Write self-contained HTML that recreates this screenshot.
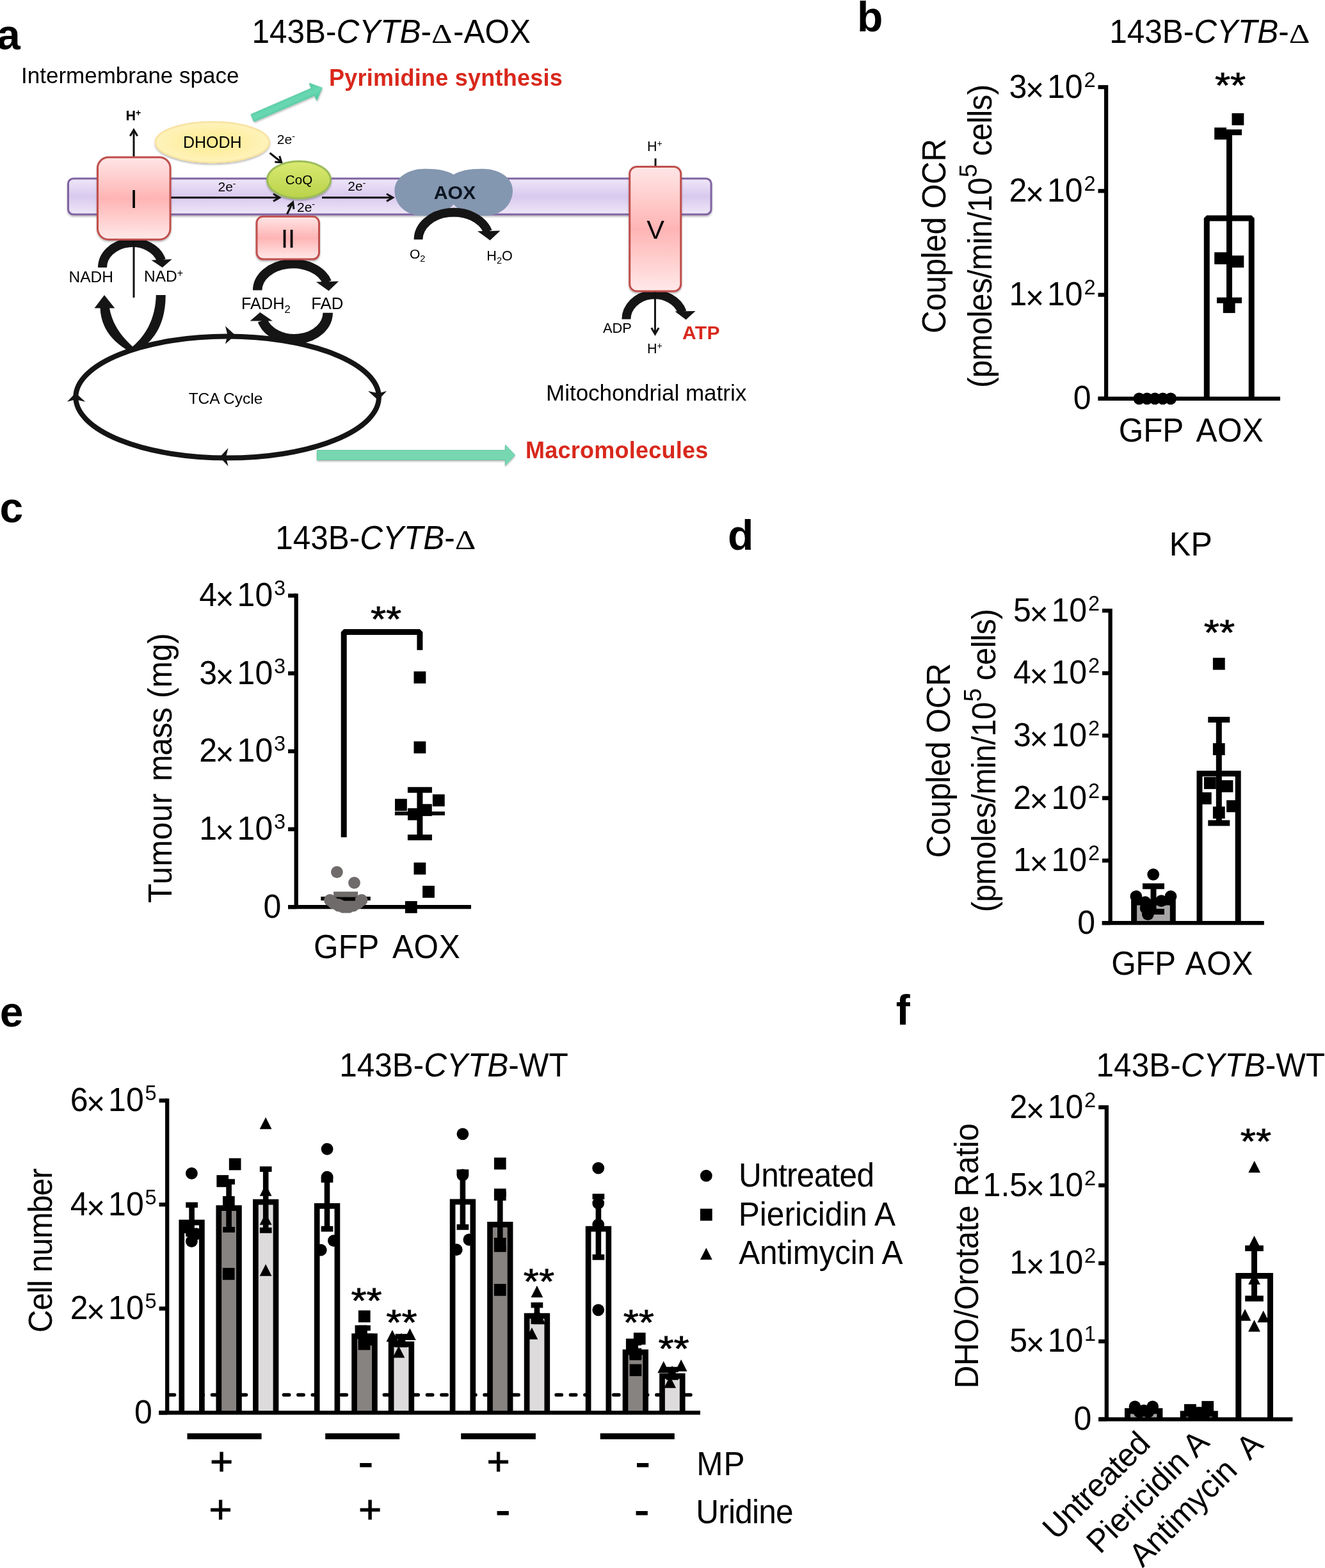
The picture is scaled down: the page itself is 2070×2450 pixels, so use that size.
<!DOCTYPE html>
<html lang="en">
<head>
<meta charset="utf-8">
<title>Figure</title>
<style>
html,body{margin:0;padding:0;background:#fff;}
body{width:2070px;height:2450px;overflow:hidden;}
svg{display:block;font-family:"Liberation Sans",sans-serif;fill:#000;}
</style>
</head>
<body>
<svg width="2070" height="2450" viewBox="0 0 2070 2450">
<rect width="2070" height="2450" fill="#fff"/>
<defs>
<linearGradient id="gMem" x1="0" y1="0" x2="0" y2="1"><stop offset="0" stop-color="#EFE7F9"/><stop offset="0.5" stop-color="#D9C9EE"/><stop offset="1" stop-color="#EFE8F8"/></linearGradient>
<linearGradient id="gPink" x1="0" y1="0" x2="0" y2="1"><stop offset="0" stop-color="#FFE6E6"/><stop offset="0.5" stop-color="#FFB4B4"/><stop offset="1" stop-color="#FFE9E9"/></linearGradient>
<linearGradient id="gPinkV" x1="0" y1="0" x2="0" y2="1"><stop offset="0" stop-color="#FFE6E6"/><stop offset="0.5" stop-color="#FFB4B4"/><stop offset="1" stop-color="#FFE9E9"/></linearGradient>
<radialGradient id="gYel" cx="0.5" cy="0.5" r="0.6"><stop offset="0" stop-color="#FDEB8E"/><stop offset="1" stop-color="#FFF4C4"/></radialGradient>
<linearGradient id="gCoQ" x1="0" y1="0" x2="0" y2="1"><stop offset="0" stop-color="#D9EA72"/><stop offset="1" stop-color="#B9D24A"/></linearGradient>
<linearGradient id="gGrn" x1="0" y1="0" x2="0" y2="1"><stop offset="0" stop-color="#4FCBA1"/><stop offset="0.5" stop-color="#6AD8B2"/><stop offset="1" stop-color="#4FCBA1"/></linearGradient>
<filter id="sh" x="-10%" y="-10%" width="120%" height="130%"><feGaussianBlur in="SourceAlpha" stdDeviation="1.5"/><feOffset dy="2"/><feComponentTransfer><feFuncA type="linear" slope="0.3"/></feComponentTransfer><feMerge><feMergeNode/><feMergeNode in="SourceGraphic"/></feMerge></filter>
</defs>
<g id="panel-a">
<text x="-5" y="76.5" font-size="66" font-weight="bold">a</text>
<text transform="translate(393.4 67.2) scale(1 1.03)" font-size="49.5">143B-<tspan font-style="italic">CYTB</tspan>-<tspan x="280.6" font-size="41" font-family="'Liberation Serif', serif" textLength="32.6" lengthAdjust="spacingAndGlyphs">Δ</tspan><tspan x="314.6">-AOX</tspan></text>
<text x="33" y="130" font-size="35">Intermembrane space</text>
<text x="853" y="626" font-size="35">Mitochondrial matrix</text>
<text x="514" y="133.5" font-size="36" font-weight="bold" fill="#D8281C" letter-spacing="0.25">Pyrimidine synthesis</text>
<text x="821" y="716" font-size="36" font-weight="bold" fill="#D8281C" letter-spacing="0.25">Macromolecules</text>
<rect x="106.5" y="279" width="1004.5" height="56" rx="8" fill="url(#gMem)" stroke="#8064A2" stroke-width="3" filter="url(#sh)"/>
<g transform="translate(394.5 184.3) rotate(-23.4)" filter="url(#sh)"><path d="M0 -6H103V-14.6L118.5 0L103 14.6V6H0Z" fill="url(#gGrn)" stroke="#46C097" stroke-width="1"/></g>
<g transform="translate(495.5 711)" filter="url(#sh)"><path d="M0 -7.5H294V-16L309 0L294 16V7.5H0Z" fill="#77D7B1" stroke="#62CBA6" stroke-width="1"/></g>
<path d="M160.0 418.0A47 38.8 0 0 1 252.1 407.0" stroke="#151515" stroke-width="14" fill="none"/>
<path d="M236.4 406.5L268.6 405L253.7 418Z" fill="#151515"/>
<path d="M402.2 453.5A55.7 41.5 0 0 1 511.0 441.0" stroke="#151515" stroke-width="14.5" fill="none"/>
<path d="M493.9 440.5L529.1 439.5L513.5 454.5Z" fill="#151515"/>
<path d="M978.4 498.8A44.6 38.6 0 0 1 1065.7 487.7" stroke="#151515" stroke-width="14" fill="none"/>
<path d="M1054.4 486.5L1086.5 486L1071.6 499.6Z" fill="#151515"/>
<path d="M209 203.5V465" stroke="#111" stroke-width="3" fill="none"/>
<path d="M203.3 212.5L209 203L214.7 212.5" stroke="#111" stroke-width="3" fill="none" stroke-linejoin="miter"/>
<path d="M267 308.7H436M503 308.7H613" stroke="#111" stroke-width="3" fill="none"/>
<path d="M427 303L436.8 308.7L427 314.4M604 303L613.8 308.7L604 314.4" stroke="#111" stroke-width="3" fill="none"/>
<rect x="152.5" y="245.7" width="113.5" height="128.5" rx="17" fill="url(#gPink)" stroke="#C0504D" stroke-width="3" filter="url(#sh)"/>
<text x="209" y="324.5" font-size="40" text-anchor="middle">I</text>
<rect x="401" y="338.3" width="97.5" height="66.7" rx="10" fill="url(#gPink)" stroke="#C0504D" stroke-width="3" filter="url(#sh)"/>
<text x="450" y="386.5" font-size="40" text-anchor="middle">II</text>
<path d="M448.5 334.5L457 317" stroke="#111" stroke-width="3" fill="none"/>
<path d="M449.3 322.8L457.6 315.8L459 326.8" stroke="#111" stroke-width="3" fill="none"/>
<ellipse cx="331.8" cy="222.2" rx="88.8" ry="31.8" fill="url(#gYel)" stroke="#F8E3A0" stroke-width="2.5" filter="url(#sh)"/>
<text x="331.8" y="231.3" font-size="25" text-anchor="middle">DHODH</text>
<path d="M421.5 239L439 253" stroke="#111" stroke-width="3" fill="none"/>
<path d="M429.3 253L439.8 253.8L436.7 243.8" stroke="#111" stroke-width="3" fill="none"/>
<ellipse cx="467" cy="281" rx="49.5" ry="29" fill="url(#gCoQ)" stroke="#9BBB59" stroke-width="3" filter="url(#sh)"/>
<text x="467" y="287.6" font-size="20.6" text-anchor="middle">CoQ</text>
<text x="340.5" y="298.8" font-size="21">2e<tspan dy="-7" font-size="14">-</tspan></text>
<text x="432.8" y="225" font-size="21">2e<tspan dy="-7" font-size="14">-</tspan></text>
<text x="543.3" y="298" font-size="21">2e<tspan dy="-7" font-size="14">-</tspan></text>
<text x="464" y="330.5" font-size="21">2e<tspan dy="-7" font-size="14">-</tspan></text>
<text x="196.5" y="187.7" font-size="21.5" font-weight="bold">H<tspan dy="-7" font-size="14">+</tspan></text>
<path d="M708.7 272.7C700 267 685 263.7 664 263.7C638 263.7 616.4 277 616.4 297.5C616.4 320 634 337.1 660 337.1C682 337.1 700 330.5 708.7 319.3C717.4 330.5 735.4 337.1 757.4 337.1C783.4 337.1 801 320 801 297.5C801 277 779.4 263.7 753.4 263.7C732.4 263.7 717.4 267 708.7 272.7Z" fill="#8497B0"/>
<text x="710.5" y="311" font-size="30.3" text-anchor="middle" font-weight="bold" fill="#0C1622">AOX</text>
<path d="M653.5 374.3A55.5 42.5 0 0 1 762.1 361.9" stroke="#151515" stroke-width="13.8" fill="none"/>
<path d="M746 361.3L781.5 360.4L765.6 375.5Z" fill="#151515"/>
<text x="640" y="403.6" font-size="21">O<tspan dy="5.5" font-size="14.5">2</tspan></text>
<text x="760.3" y="406.6" font-size="21.6">H<tspan dy="5.5" font-size="14.5">2</tspan><tspan dy="-5.5">O</tspan></text>
<path d="M1024 247.5V262" stroke="#111" stroke-width="3"/>
<rect x="983.7" y="260.5" width="80" height="194.5" rx="11" fill="url(#gPinkV)" stroke="#C0504D" stroke-width="3" filter="url(#sh)"/>
<text x="1024" y="373" font-size="41.5" text-anchor="middle">V</text>
<text x="1011" y="236.3" font-size="21.5">H<tspan dy="-7" font-size="14">+</tspan></text>
<text x="1011" y="551.8" font-size="21.5">H<tspan dy="-7" font-size="14">+</tspan></text>
<path d="M1023.4 456.5V521" stroke="#111" stroke-width="3" fill="none"/>
<path d="M1017.7 512.3L1023.4 522L1029.1 512.3" stroke="#111" stroke-width="3" fill="none"/>
<text x="942" y="520" font-size="21.8">ADP</text>
<text x="1066" y="530" font-size="30" font-weight="bold" fill="#D8281C" letter-spacing="0.4">ATP</text>
<text x="107.5" y="441.3" font-size="24.5">NADH</text>
<text x="225" y="439.7" font-size="24.5">NAD<tspan dy="-8" font-size="16">+</tspan></text>
<path d="M156.5 481C157.5 505 168 528 197 546L207.5 550L207.1 541.5C188 524 175 505 171 481Z" fill="#151515"/>
<path d="M258.7 461C259 495 248 525 222 543.5L207 550L207.1 541.5C230 522 243 495 243.8 461Z" fill="#151515"/>
<path d="M147.5 481.5L163 461L179.3 481.5Z" fill="#151515"/>
<text x="377" y="482.9" font-size="25.3">FADH<tspan dy="6" font-size="16.5">2</tspan></text>
<text x="486.2" y="482.9" font-size="25.8">FAD</text>
<path d="M512.2 488.8A52.2 41 0 0 1 410.1 500.8" stroke="#151515" stroke-width="15.5" fill="none"/>
<path d="M390.7 501.5L406.3 488L425.9 501.5Z" fill="#151515"/>
<ellipse cx="355.1" cy="620.6" rx="236.8" ry="95" fill="none" stroke="#151515" stroke-width="8"/>
<path d="M352 509.5L367.5 523.7L352 537.5L355.5 523.7Z" fill="#151515"/>
<path d="M575 611L591 625.5L604 611L591 614.5Z" fill="#151515"/>
<path d="M356.5 700L343.3 714.3L356.5 728.6L353 714.3Z" fill="#151515"/>
<path d="M104.8 627.8L118 614L133.3 627.8L118 624.3Z" fill="#151515"/>
<text x="352.5" y="630.8" font-size="24.5" text-anchor="middle">TCA Cycle</text>
</g>
<g id="panel-b">
<text x="1339.1" y="48.6" font-size="66" font-weight="bold">b</text>
<text transform="translate(1733.2 67.2) scale(1 1.03)" font-size="49.5">143B-<tspan font-style="italic">CYTB</tspan>-<tspan x="280.6" font-size="41" font-family="'Liberation Serif', serif" textLength="32.6" lengthAdjust="spacingAndGlyphs">Δ</tspan></text>
<text transform="translate(1728.1 152.6) scale(1 1.03)" font-size="50"><tspan x="-123.7" y="0" text-anchor="end">3</tspan><tspan x="-111.5" y="5.7" text-anchor="middle">×</tspan><tspan x="-92.1" y="0">10</tspan><tspan x="-34.7" y="-16.5" font-size="32.5">2</tspan></text>
<text transform="translate(1728.1 314.8) scale(1 1.03)" font-size="50"><tspan x="-123.7" y="0" text-anchor="end">2</tspan><tspan x="-111.5" y="5.7" text-anchor="middle">×</tspan><tspan x="-92.1" y="0">10</tspan><tspan x="-34.7" y="-16.5" font-size="32.5">2</tspan></text>
<text transform="translate(1728.1 477.1) scale(1 1.03)" font-size="50"><tspan x="-123.7" y="0" text-anchor="end">1</tspan><tspan x="-111.5" y="5.7" text-anchor="middle">×</tspan><tspan x="-92.1" y="0">10</tspan><tspan x="-34.7" y="-16.5" font-size="32.5">2</tspan></text>
<text transform="translate(1704.6 639.3) scale(1 1.03)" font-size="50" text-anchor="end">0</text>
<text transform="translate(1477 521) rotate(-90) scale(1 1.03)" font-size="49.5" letter-spacing="-0.39">Coupled OCR</text>
<text transform="translate(1548.8 602.9) rotate(-90) scale(1 1.03)" font-size="49.5"><tspan x="-3" y="0" letter-spacing="-0.75">(pmoles/min/10</tspan><tspan x="325.7" y="-22.1" font-size="38">5</tspan> <tspan x="359.1" y="0" letter-spacing="-0.71">cells)</tspan></text>
<path d="M1885.3 622.8V341.0H1955.2V622.8" fill="#fff" stroke="#000" stroke-width="9" stroke-linejoin="bevel"/>
<path d="M1728.1 132.9V622.8" stroke="#000" stroke-width="6.3" fill="none"/>
<path d="M1715.7 622.8H2000" stroke="#000" stroke-width="6.3" fill="none"/>
<path d="M1715.5 136.1H1728.1M1715.5 298.3H1728.1M1715.5 460.6H1728.1M1715.5 622.8H1728.1" stroke="#000" stroke-width="6.3" fill="none"/>
<path d="M1920.5 206.7V469.2M1901.0 206.7H1940.0M1901.0 469.2H1940.0" stroke="#000" stroke-width="9" fill="none"/>
<rect x="1924.5" y="176.9" width="18.8" height="18.8" fill="#000"/>
<rect x="1897.2" y="199.3" width="18.8" height="18.8" fill="#000"/>
<rect x="1897.2" y="394.2" width="18.8" height="18.8" fill="#000"/>
<rect x="1924.5" y="399.3" width="18.8" height="18.8" fill="#000"/>
<rect x="1910.8" y="470.3" width="18.8" height="18.8" fill="#000"/>
<circle cx="1779.7" cy="622.8" r="9.4" fill="#000"/>
<circle cx="1792.0" cy="622.8" r="9.4" fill="#000"/>
<circle cx="1804.3" cy="622.8" r="9.4" fill="#000"/>
<circle cx="1816.6" cy="622.8" r="9.4" fill="#000"/>
<circle cx="1828.9" cy="622.8" r="9.4" fill="#000"/>
<text transform="translate(1897.9 151.7) scale(1 0.9)" font-size="62" stroke="#000" stroke-width="0.9">**</text>
<text transform="translate(1747.8 689.5) scale(1 1.03)" font-size="49.5" letter-spacing="-0.14">GFP</text>
<text transform="translate(1868.6 689.5) scale(1 1.03)" font-size="49.5" letter-spacing="0.35">AOX</text>
</g>
<g id="panel-c">
<text x="-0.6" y="815.5" font-size="66" font-weight="bold">c</text>
<text transform="translate(430.2 858.2) scale(1 1.03)" font-size="49.5">143B-<tspan font-style="italic">CYTB</tspan>-<tspan x="280.6" font-size="41" font-family="'Liberation Serif', serif" textLength="32.6" lengthAdjust="spacingAndGlyphs">Δ</tspan></text>
<path d="M462.7 927.5V1417.2" stroke="#000" stroke-width="6.3" fill="none"/>
<path d="M450 1417.2H736" stroke="#000" stroke-width="6.3" fill="none"/>
<path d="M450.1 930.6H462.7M450.1 1052.2H462.7M450.1 1173.9H462.7M450.1 1295.6H462.7M450.1 1417.2H462.7" stroke="#000" stroke-width="6.3" fill="none"/>
<text transform="translate(462.7 947.1) scale(1 1.03)" font-size="50"><tspan x="-123.7" y="0" text-anchor="end">4</tspan><tspan x="-111.5" y="5.7" text-anchor="middle">×</tspan><tspan x="-92.1" y="0">10</tspan><tspan x="-34.7" y="-16.5" font-size="32.5">3</tspan></text>
<text transform="translate(462.7 1068.7) scale(1 1.03)" font-size="50"><tspan x="-123.7" y="0" text-anchor="end">3</tspan><tspan x="-111.5" y="5.7" text-anchor="middle">×</tspan><tspan x="-92.1" y="0">10</tspan><tspan x="-34.7" y="-16.5" font-size="32.5">3</tspan></text>
<text transform="translate(462.7 1190.4) scale(1 1.03)" font-size="50"><tspan x="-123.7" y="0" text-anchor="end">2</tspan><tspan x="-111.5" y="5.7" text-anchor="middle">×</tspan><tspan x="-92.1" y="0">10</tspan><tspan x="-34.7" y="-16.5" font-size="32.5">3</tspan></text>
<text transform="translate(462.7 1312.1) scale(1 1.03)" font-size="50"><tspan x="-123.7" y="0" text-anchor="end">1</tspan><tspan x="-111.5" y="5.7" text-anchor="middle">×</tspan><tspan x="-92.1" y="0">10</tspan><tspan x="-34.7" y="-16.5" font-size="32.5">3</tspan></text>
<text transform="translate(439.2 1433.7) scale(1 1.03)" font-size="50" text-anchor="end">0</text>
<text transform="translate(267.9 1409.5) rotate(-90) scale(1 1.03)" font-size="49.5"><tspan x="-1.2" y="0" letter-spacing="0.45">Tumour</tspan> <tspan x="188.7" y="0" letter-spacing="-0.87">mass</tspan> <tspan x="318.5" y="0" letter-spacing="0.01">(mg)</tspan></text>
<path d="M537.2 1308.3V987.6H655.9V1015.7" stroke="#000" stroke-width="9" fill="none" stroke-linejoin="bevel"/>
<text transform="translate(578.9 986.1) scale(1 0.9)" font-size="62" stroke="#000" stroke-width="0.9">**</text>
<path d="M501.3 1404H578.8" stroke="#000" stroke-width="6.2"/>
<rect x="521.1" y="1393.2" width="38.1" height="8.5" fill="#6E6B6A"/>
<circle cx="526.4" cy="1362.6" r="9.4" fill="#6E6B6A"/>
<circle cx="553.5" cy="1379.3" r="9.4" fill="#6E6B6A"/>
<circle cx="515.5" cy="1406.5" r="9.4" fill="#6E6B6A"/>
<circle cx="565" cy="1406.5" r="9.4" fill="#6E6B6A"/>
<circle cx="521" cy="1411" r="9.4" fill="#6E6B6A"/>
<circle cx="559.5" cy="1411" r="9.4" fill="#6E6B6A"/>
<circle cx="529" cy="1415" r="9.4" fill="#6E6B6A"/>
<circle cx="552" cy="1415" r="9.4" fill="#6E6B6A"/>
<circle cx="536" cy="1417.3" r="9.4" fill="#6E6B6A"/>
<circle cx="545" cy="1417.3" r="9.4" fill="#6E6B6A"/>
<circle cx="540.5" cy="1417.3" r="9.4" fill="#6E6B6A"/>
<circle cx="534" cy="1412" r="9.4" fill="#6E6B6A"/>
<circle cx="547" cy="1412" r="9.4" fill="#6E6B6A"/>
<path d="M526 1402.5L538 1407.5H555V1402.5Z" fill="#000"/>
<path d="M616.9 1271H694.9" stroke="#000" stroke-width="6.2"/>
<path d="M655.9 1234.3V1308.6M636.9 1234.3H674.9M636.9 1308.6H674.9" stroke="#000" stroke-width="9" fill="none"/>
<rect x="646.5" y="1049.1" width="18.8" height="18.8" fill="#000"/>
<rect x="646.5" y="1158.4" width="18.8" height="18.8" fill="#000"/>
<rect x="617.0" y="1248.2" width="18.8" height="18.8" fill="#000"/>
<rect x="675.9" y="1241.2" width="18.8" height="18.8" fill="#000"/>
<rect x="656.0" y="1256.3" width="18.8" height="18.8" fill="#000"/>
<rect x="637.0" y="1262.8" width="18.8" height="18.8" fill="#000"/>
<rect x="646.5" y="1347.7" width="18.8" height="18.8" fill="#000"/>
<rect x="660.1" y="1384.0" width="18.8" height="18.8" fill="#000"/>
<rect x="632.9" y="1408.0" width="18.8" height="18.8" fill="#000"/>
<text transform="translate(490.1 1497.2) scale(1 1.03)" font-size="49.5" letter-spacing="0.16">GFP</text>
<text transform="translate(613 1497.2) scale(1 1.03)" font-size="49.5" letter-spacing="0.6">AOX</text>
</g>
<g id="panel-d">
<text x="1137" y="858.6" font-size="66" font-weight="bold">d</text>
<text transform="translate(1826.7 868) scale(1 1.03)" font-size="50" letter-spacing="0.5">KP</text>
<text transform="translate(1734.6 970.7) scale(1 1.03)" font-size="50"><tspan x="-123.7" y="0" text-anchor="end">5</tspan><tspan x="-111.5" y="5.7" text-anchor="middle">×</tspan><tspan x="-92.1" y="0">10</tspan><tspan x="-34.7" y="-16.5" font-size="32.5">2</tspan></text>
<text transform="translate(1734.6 1068.3) scale(1 1.03)" font-size="50"><tspan x="-123.7" y="0" text-anchor="end">4</tspan><tspan x="-111.5" y="5.7" text-anchor="middle">×</tspan><tspan x="-92.1" y="0">10</tspan><tspan x="-34.7" y="-16.5" font-size="32.5">2</tspan></text>
<text transform="translate(1734.6 1165.9) scale(1 1.03)" font-size="50"><tspan x="-123.7" y="0" text-anchor="end">3</tspan><tspan x="-111.5" y="5.7" text-anchor="middle">×</tspan><tspan x="-92.1" y="0">10</tspan><tspan x="-34.7" y="-16.5" font-size="32.5">2</tspan></text>
<text transform="translate(1734.6 1263.5) scale(1 1.03)" font-size="50"><tspan x="-123.7" y="0" text-anchor="end">2</tspan><tspan x="-111.5" y="5.7" text-anchor="middle">×</tspan><tspan x="-92.1" y="0">10</tspan><tspan x="-34.7" y="-16.5" font-size="32.5">2</tspan></text>
<text transform="translate(1734.6 1361.1) scale(1 1.03)" font-size="50"><tspan x="-123.7" y="0" text-anchor="end">1</tspan><tspan x="-111.5" y="5.7" text-anchor="middle">×</tspan><tspan x="-92.1" y="0">10</tspan><tspan x="-34.7" y="-16.5" font-size="32.5">2</tspan></text>
<text transform="translate(1711.1 1458.7) scale(1 1.03)" font-size="50" text-anchor="end">0</text>
<text transform="translate(1483.5 1340.4) rotate(-90) scale(1 1.03)" font-size="49.5" letter-spacing="-0.39">Coupled OCR</text>
<text transform="translate(1555.3 1422.3) rotate(-90) scale(1 1.03)" font-size="49.5"><tspan x="-3" y="0" letter-spacing="-0.75">(pmoles/min/10</tspan><tspan x="325.7" y="-22.1" font-size="38">5</tspan> <tspan x="359.1" y="0" letter-spacing="-0.71">cells)</tspan></text>
<path d="M1771.6 1442.2V1410.0H1832.3V1442.2" fill="#A7A5A5" stroke="#000" stroke-width="9" stroke-linejoin="miter"/>
<path d="M1874.0 1442.2V1208.8H1934.2V1442.2" fill="#fff" stroke="#000" stroke-width="9" stroke-linejoin="miter"/>
<path d="M1734.6 951.1V1442.2" stroke="#000" stroke-width="6.3" fill="none"/>
<path d="M1721.6 1442.2H1974.8" stroke="#000" stroke-width="6.3" fill="none"/>
<path d="M1722.0 954.2H1734.6M1722.0 1051.8H1734.6M1722.0 1149.4H1734.6M1722.0 1247.0H1734.6M1722.0 1344.6H1734.6M1722.0 1442.2H1734.6" stroke="#000" stroke-width="6.3" fill="none"/>
<path d="M1802 1384.7V1424.5M1785.0 1384.7H1819.0M1785.0 1424.5H1819.0" stroke="#000" stroke-width="9" fill="none"/>
<circle cx="1801.7" cy="1366.3" r="9.4" fill="#000"/>
<circle cx="1774.9" cy="1400.7" r="9.4" fill="#000"/>
<circle cx="1829" cy="1400.7" r="9.4" fill="#000"/>
<circle cx="1789.1" cy="1409.7" r="9.4" fill="#000"/>
<circle cx="1814.3" cy="1407.6" r="9.4" fill="#000"/>
<circle cx="1790.2" cy="1419.1" r="9.4" fill="#000"/>
<circle cx="1793.3" cy="1428.6" r="9.4" fill="#000"/>
<path d="M1904.3 1124.5V1286.1M1887.3 1124.5H1921.3M1887.3 1286.1H1921.3" stroke="#000" stroke-width="9" fill="none"/>
<rect x="1894.9" y="1027.8" width="18.8" height="18.8" fill="#000"/>
<rect x="1894.9" y="1161.2" width="18.8" height="18.8" fill="#000"/>
<rect x="1881.0" y="1214.1" width="18.8" height="18.8" fill="#000"/>
<rect x="1907.6" y="1219.1" width="18.8" height="18.8" fill="#000"/>
<rect x="1873.9" y="1238.0" width="18.8" height="18.8" fill="#000"/>
<rect x="1916.1" y="1250.3" width="18.8" height="18.8" fill="#000"/>
<rect x="1894.9" y="1260.3" width="18.8" height="18.8" fill="#000"/>
<text transform="translate(1880.8 1007.1) scale(1 0.9)" font-size="62" stroke="#000" stroke-width="0.9">**</text>
<text transform="translate(1736.2 1522.9) scale(1 1.03)" font-size="49.5" letter-spacing="-0.44">GFP</text>
<text transform="translate(1851.5 1522.9) scale(1 1.03)" font-size="49.5" letter-spacing="0.8">AOX</text>
</g>
<g id="panel-e">
<text x="-0.3" y="1603.5" font-size="66" font-weight="bold">e</text>
<text transform="translate(530.3 1682.3) scale(1 1.03)" font-size="49.5">143B-<tspan font-style="italic">CYTB</tspan>-WT</text>
<path d="M264.2 2179.5H1080" stroke="#000" stroke-width="5.4" stroke-dasharray="8.4 14" stroke-linecap="round" fill="none"/>
<text transform="translate(80.7 2082.2) rotate(-90) scale(1 1.03)" font-size="49.5" letter-spacing="-1">Cell number</text>
<path d="M283.8 2207.3V1910.1H315.4V2207.3" fill="#fff" stroke="#000" stroke-width="8.7" stroke-linejoin="miter"/>
<path d="M341.8 2207.3V1887.6H373.4V2207.3" fill="#878381" stroke="#000" stroke-width="8.7" stroke-linejoin="miter"/>
<path d="M399.4 2207.3V1878.2H431.0V2207.3" fill="#DDDBDB" stroke="#000" stroke-width="8.7" stroke-linejoin="miter"/>
<path d="M495.2 2207.3V1884.4H526.9V2207.3" fill="#fff" stroke="#000" stroke-width="8.7" stroke-linejoin="miter"/>
<path d="M553.6 2207.3V2087.8H585.4V2207.3" fill="#878381" stroke="#000" stroke-width="8.7" stroke-linejoin="miter"/>
<path d="M611.1 2207.3V2100.3H642.8V2207.3" fill="#DDDBDB" stroke="#000" stroke-width="8.7" stroke-linejoin="miter"/>
<path d="M707.1 2207.3V1877.8H738.8V2207.3" fill="#fff" stroke="#000" stroke-width="8.7" stroke-linejoin="miter"/>
<path d="M765.5 2207.3V1913.3H797.1V2207.3" fill="#878381" stroke="#000" stroke-width="8.7" stroke-linejoin="miter"/>
<path d="M823.1 2207.3V2056.2H854.8V2207.3" fill="#DDDBDB" stroke="#000" stroke-width="8.7" stroke-linejoin="miter"/>
<path d="M919.1 2207.3V1920.1H950.8V2207.3" fill="#fff" stroke="#000" stroke-width="8.7" stroke-linejoin="miter"/>
<path d="M977.0 2207.3V2112.8H1008.6V2207.3" fill="#878381" stroke="#000" stroke-width="8.7" stroke-linejoin="miter"/>
<path d="M1034.5 2207.3V2150.2H1066.2V2207.3" fill="#DDDBDB" stroke="#000" stroke-width="8.7" stroke-linejoin="miter"/>
<path d="M299.6 1882.7V1928M290.25 1882.7H308.95000000000005M290.25 1928H308.95000000000005" stroke="#000" stroke-width="8.6" fill="none"/>
<path d="M357.6 1846.5V1921.4M348.25 1846.5H366.95000000000005M348.25 1921.4H366.95000000000005" stroke="#000" stroke-width="8.6" fill="none"/>
<path d="M415.2 1826.8V1922.4M405.84999999999997 1826.8H424.55M405.84999999999997 1922.4H424.55" stroke="#000" stroke-width="8.6" fill="none"/>
<path d="M511.0 1843.4V1920.1M501.65 1843.4H520.35M501.65 1920.1H520.35" stroke="#000" stroke-width="8.6" fill="none"/>
<path d="M569.5 2075V2092M560.15 2075H578.85M560.15 2092H578.85" stroke="#000" stroke-width="8.6" fill="none"/>
<path d="M626.9 2088.5V2101M617.55 2088.5H636.25M617.55 2101H636.25" stroke="#000" stroke-width="8.6" fill="none"/>
<path d="M722.9 1831.6V1917.4M713.55 1831.6H732.25M713.55 1917.4H732.25" stroke="#000" stroke-width="8.6" fill="none"/>
<path d="M781.3 1866V1952M771.9499999999999 1866H790.65M771.9499999999999 1952H790.65" stroke="#000" stroke-width="8.6" fill="none"/>
<path d="M838.9 2039.2V2064.8M829.55 2039.2H848.25M829.55 2064.8H848.25" stroke="#000" stroke-width="8.6" fill="none"/>
<path d="M934.9 1869.6V1964.4M925.55 1869.6H944.25M925.55 1964.4H944.25" stroke="#000" stroke-width="8.6" fill="none"/>
<path d="M992.8 2098V2119M983.4499999999999 2098H1002.15M983.4499999999999 2119H1002.15" stroke="#000" stroke-width="8.6" fill="none"/>
<path d="M1050.4 2140V2152M1041.0500000000002 2140H1059.75M1041.0500000000002 2152H1059.75" stroke="#000" stroke-width="8.6" fill="none"/>
<circle cx="299.4" cy="1833.4" r="9.4" fill="#000"/>
<circle cx="292" cy="1918" r="9.4" fill="#000"/>
<circle cx="306.5" cy="1928" r="9.4" fill="#000"/>
<circle cx="299.4" cy="1939.5" r="9.4" fill="#000"/>
<circle cx="511.1" cy="1795.3" r="9.4" fill="#000"/>
<circle cx="511.1" cy="1839.2" r="9.4" fill="#000"/>
<circle cx="521.4" cy="1938.7" r="9.4" fill="#000"/>
<circle cx="501.2" cy="1953.2" r="9.4" fill="#000"/>
<circle cx="722.9" cy="1771.8" r="9.4" fill="#000"/>
<circle cx="722.9" cy="1836" r="9.4" fill="#000"/>
<circle cx="732.9" cy="1937" r="9.4" fill="#000"/>
<circle cx="713.2" cy="1952.7" r="9.4" fill="#000"/>
<circle cx="934.7" cy="1825.2" r="9.4" fill="#000"/>
<circle cx="934.7" cy="1880.1" r="9.4" fill="#000"/>
<circle cx="934.7" cy="1913.3" r="9.4" fill="#000"/>
<circle cx="934.7" cy="2046.8" r="9.4" fill="#000"/>
<rect x="357.8" y="1809.7" width="18.7" height="18.7" fill="#000"/>
<rect x="338.4" y="1836.1" width="18.7" height="18.7" fill="#000"/>
<rect x="348.0" y="1869.0" width="18.7" height="18.7" fill="#000"/>
<rect x="347.8" y="1981.1" width="18.7" height="18.7" fill="#000"/>
<rect x="559.9" y="2047.5" width="18.7" height="18.7" fill="#000"/>
<rect x="554.6" y="2070.7" width="18.7" height="18.7" fill="#000"/>
<rect x="565.6" y="2083.7" width="18.7" height="18.7" fill="#000"/>
<rect x="559.6" y="2090.7" width="18.7" height="18.7" fill="#000"/>
<rect x="771.9" y="1808.7" width="18.7" height="18.7" fill="#000"/>
<rect x="771.9" y="1857.2" width="18.7" height="18.7" fill="#000"/>
<rect x="771.9" y="1933.9" width="18.7" height="18.7" fill="#000"/>
<rect x="771.9" y="2006.1" width="18.7" height="18.7" fill="#000"/>
<rect x="989.9" y="2082.3" width="18.7" height="18.7" fill="#000"/>
<rect x="977.9" y="2091.6" width="18.7" height="18.7" fill="#000"/>
<rect x="983.6" y="2106.6" width="18.7" height="18.7" fill="#000"/>
<rect x="983.6" y="2131.5" width="18.7" height="18.7" fill="#000"/>
<path d="M405.7 1764.2L424.5 1764.2L415.1 1745.7Z" fill="#000"/>
<path d="M405.7 1868.8L424.5 1868.8L415.1 1850.3Z" fill="#000"/>
<path d="M405.7 1913.8L424.5 1913.8L415.1 1895.2Z" fill="#000"/>
<path d="M405.7 1993.7L424.5 1993.7L415.1 1975.2Z" fill="#000"/>
<path d="M603.5 2096.4L622.3 2096.4L612.9 2077.9Z" fill="#000"/>
<path d="M631.0 2093.9L649.8 2093.9L640.4 2075.4Z" fill="#000"/>
<path d="M613.5 2121.4L632.3 2121.4L622.9 2102.9Z" fill="#000"/>
<path d="M617.6 2101.2L636.4 2101.2L627 2082.8Z" fill="#000"/>
<path d="M829.5 2027.2L848.3 2027.2L838.9 2008.7Z" fill="#000"/>
<path d="M821.5 2092.8L840.3 2092.8L830.9 2074.2Z" fill="#000"/>
<path d="M829.5 2061.2L848.3 2061.2L838.9 2042.8Z" fill="#000"/>
<path d="M833.6 2069.2L852.4 2069.2L843 2050.8Z" fill="#000"/>
<path d="M1027.3 2145.2L1046.1 2145.2L1036.7 2126.7Z" fill="#000"/>
<path d="M1054.7 2142.7L1073.5 2142.7L1064.1 2124.2Z" fill="#000"/>
<path d="M1037.3 2168.8L1056.1 2168.8L1046.7 2150.2Z" fill="#000"/>
<path d="M1040.6 2152.2L1059.4 2152.2L1050 2133.8Z" fill="#000"/>
<text transform="translate(548.4 2050.8) scale(1 0.9)" font-size="62" stroke="#000" stroke-width="0.9">**</text>
<text transform="translate(603.3 2085.1) scale(1 0.9)" font-size="62" stroke="#000" stroke-width="0.9">**</text>
<text transform="translate(817.8 2020.9) scale(1 0.9)" font-size="62" stroke="#000" stroke-width="0.9">**</text>
<text transform="translate(973.7 2085.1) scale(1 0.9)" font-size="62" stroke="#000" stroke-width="0.9">**</text>
<text transform="translate(1028.4 2126.1) scale(1 0.9)" font-size="62" stroke="#000" stroke-width="0.9">**</text>
<path d="M261.2 1716.4V2207.3" stroke="#000" stroke-width="6.3" fill="none"/>
<path d="M248.2 2207.3H1094" stroke="#000" stroke-width="6.3" fill="none"/>
<path d="M248.6 1719.6H261.2M248.6 1882.2H261.2M248.6 2044.7H261.2M248.6 2207.3H261.2" stroke="#000" stroke-width="6.3" fill="none"/>
<text transform="translate(261.2 1736.1) scale(1 1.03)" font-size="50"><tspan x="-123.7" y="0" text-anchor="end">6</tspan><tspan x="-111.5" y="5.7" text-anchor="middle">×</tspan><tspan x="-92.1" y="0">10</tspan><tspan x="-34.7" y="-16.5" font-size="32.5">5</tspan></text>
<text transform="translate(261.2 1898.7) scale(1 1.03)" font-size="50"><tspan x="-123.7" y="0" text-anchor="end">4</tspan><tspan x="-111.5" y="5.7" text-anchor="middle">×</tspan><tspan x="-92.1" y="0">10</tspan><tspan x="-34.7" y="-16.5" font-size="32.5">5</tspan></text>
<text transform="translate(261.2 2061.2) scale(1 1.03)" font-size="50"><tspan x="-123.7" y="0" text-anchor="end">2</tspan><tspan x="-111.5" y="5.7" text-anchor="middle">×</tspan><tspan x="-92.1" y="0">10</tspan><tspan x="-34.7" y="-16.5" font-size="32.5">5</tspan></text>
<text transform="translate(237.7 2223.8) scale(1 1.03)" font-size="50" text-anchor="end">0</text>
<rect x="292.5" y="2239.5" width="116.1" height="9.3" fill="#000"/>
<rect x="508.2" y="2239.5" width="116.0" height="9.3" fill="#000"/>
<rect x="720.2" y="2239.5" width="116.7" height="9.3" fill="#000"/>
<rect x="937.7" y="2239.5" width="116.1" height="9.3" fill="#000"/>
<text x="328" y="2303.8" font-size="62" stroke="#000" stroke-width="0.9">+</text>
<text x="559.7" y="2307.6" font-size="70" stroke="#000" stroke-width="1.2">-</text>
<text x="760.5" y="2303.8" font-size="62" stroke="#000" stroke-width="0.9">+</text>
<text x="992.6" y="2307.8" font-size="70" stroke="#000" stroke-width="1.2">-</text>
<text x="326.4" y="2378.8" font-size="62" stroke="#000" stroke-width="0.9">+</text>
<text x="559.9" y="2378.8" font-size="62" stroke="#000" stroke-width="0.9">+</text>
<text x="773.9" y="2382.6" font-size="70" stroke="#000" stroke-width="1.2">-</text>
<text x="991.1" y="2382.6" font-size="70" stroke="#000" stroke-width="1.2">-</text>
<text transform="translate(1088.2 2305.1) scale(1 1.03)" font-size="49.5" letter-spacing="1">MP</text>
<text transform="translate(1087.2 2379.7) scale(1 1.03)" font-size="49.5" letter-spacing="-0.76">Uridine</text>
<circle cx="1103.3" cy="1837.2" r="9.4" fill="#000"/>
<rect x="1093.9" y="1888.6" width="18.8" height="18.8" fill="#000"/>
<path d="M1093.9 1968.2L1112.7 1968.2L1103.3 1949.8Z" fill="#000"/>
<text transform="translate(1154.1 1853.8) scale(1 1.03)" font-size="49.5" letter-spacing="-0.68">Untreated</text>
<text transform="translate(1153.8 1914.5) scale(1 1.03)" font-size="49.5" letter-spacing="0.03">Piericidin A</text>
<text transform="translate(1154.2 1975.4) scale(1 1.03)" font-size="49.5" letter-spacing="-0.21">Antimycin A</text>
</g>
<g id="panel-f">
<text x="1399.7" y="1600.7" font-size="66" font-weight="bold">f</text>
<text transform="translate(1712.6 1682.3) scale(1 1.03)" font-size="49.5">143B-<tspan font-style="italic">CYTB</tspan>-WT</text>
<text transform="translate(1527.8 2169.6) rotate(-90) scale(1 1.03)" font-size="49.5" letter-spacing="-0.23">DHO/Orotate Ratio</text>
<path d="M1761.5 2217.6V2204.7H1811.9V2217.6" fill="#A7A5A5" stroke="#000" stroke-width="9" stroke-linejoin="miter"/>
<path d="M1848.2 2217.6V2208.9H1898.3V2217.6" fill="#A7A5A5" stroke="#000" stroke-width="9" stroke-linejoin="miter"/>
<path d="M1934.8 2217.6V1993.5H1984.5V2217.6" fill="#fff" stroke="#000" stroke-width="9" stroke-linejoin="miter"/>
<path d="M1959.5 1950.6V2028.9M1945.15 1950.6H1973.85M1945.15 2028.9H1973.85" stroke="#000" stroke-width="9" fill="none"/>
<circle cx="1773" cy="2198" r="9.4" fill="#000"/>
<circle cx="1800.7" cy="2198" r="9.4" fill="#000"/>
<circle cx="1787" cy="2204" r="9.4" fill="#000"/>
<circle cx="1780" cy="2206" r="9.4" fill="#000"/>
<circle cx="1794" cy="2206" r="9.4" fill="#000"/>
<rect x="1850.0" y="2193.9" width="18.8" height="18.8" fill="#000"/>
<rect x="1877.3" y="2189.1" width="18.8" height="18.8" fill="#000"/>
<rect x="1863.6" y="2198.6" width="18.8" height="18.8" fill="#000"/>
<rect x="1856.6" y="2198.6" width="18.8" height="18.8" fill="#000"/>
<rect x="1870.6" y="2198.6" width="18.8" height="18.8" fill="#000"/>
<path d="M1950.3 1832.2L1969.1 1832.2L1959.7 1813.8Z" fill="#000"/>
<path d="M1950.1 1949.2L1968.9 1949.2L1959.5 1930.8Z" fill="#000"/>
<path d="M1950.1 2007.0L1968.9 2007.0L1959.5 1988.5Z" fill="#000"/>
<path d="M1935.6 2063.7L1954.4 2063.7L1945 2045.2Z" fill="#000"/>
<path d="M1964.3 2066.3L1983.1 2066.3L1973.7 2047.8Z" fill="#000"/>
<path d="M1950.1 2080.8L1968.9 2080.8L1959.5 2062.3Z" fill="#000"/>
<text transform="translate(1937.8 1802.1) scale(1 0.9)" font-size="62" stroke="#000" stroke-width="0.9">**</text>
<path d="M1728.8 1727.0V2217.6" stroke="#000" stroke-width="6.3" fill="none"/>
<path d="M1716.4 2217.6H2019.4" stroke="#000" stroke-width="6.3" fill="none"/>
<path d="M1716.2 1730.2H1728.8M1716.2 1852.1H1728.8M1716.2 1973.9H1728.8M1716.2 2095.8H1728.8M1716.2 2217.6H1728.8" stroke="#000" stroke-width="6.3" fill="none"/>
<text transform="translate(1728.8 1746.7) scale(1 1.03)" font-size="50"><tspan x="-123.7" y="0" text-anchor="end">2</tspan><tspan x="-111.5" y="5.7" text-anchor="middle">×</tspan><tspan x="-92.1" y="0">10</tspan><tspan x="-34.7" y="-16.5" font-size="32.5">2</tspan></text>
<text transform="translate(1728.8 1868.6) scale(1 1.03)" font-size="50"><tspan x="-123.7" y="0" text-anchor="end">1.5</tspan><tspan x="-111.5" y="5.7" text-anchor="middle">×</tspan><tspan x="-92.1" y="0">10</tspan><tspan x="-34.7" y="-16.5" font-size="32.5">2</tspan></text>
<text transform="translate(1728.8 1990.4) scale(1 1.03)" font-size="50"><tspan x="-123.7" y="0" text-anchor="end">1</tspan><tspan x="-111.5" y="5.7" text-anchor="middle">×</tspan><tspan x="-92.1" y="0">10</tspan><tspan x="-34.7" y="-16.5" font-size="32.5">2</tspan></text>
<text transform="translate(1728.8 2112.3) scale(1 1.03)" font-size="50"><tspan x="-123.7" y="0" text-anchor="end">5</tspan><tspan x="-111.5" y="5.7" text-anchor="middle">×</tspan><tspan x="-92.1" y="0">10</tspan><tspan x="-34.7" y="-16.5" font-size="32.5">1</tspan></text>
<text transform="translate(1705.3 2234.1) scale(1 1.03)" font-size="50" text-anchor="end">0</text>
<text transform="translate(1650 2408) rotate(-45) scale(1 1.03)" font-size="49.5" letter-spacing="-0.68" xml:space="preserve">Untreated</text>
<text transform="translate(1718.4 2429.5) rotate(-45) scale(1 1.03)" font-size="49.5" letter-spacing="0.03" xml:space="preserve">Piericidin A</text>
<text transform="translate(1785 2450.6) rotate(-45) scale(1 1.03)" font-size="49.5" letter-spacing="-0.22" xml:space="preserve">Antimycin  A</text>
</g>
</svg>
</body>
</html>
